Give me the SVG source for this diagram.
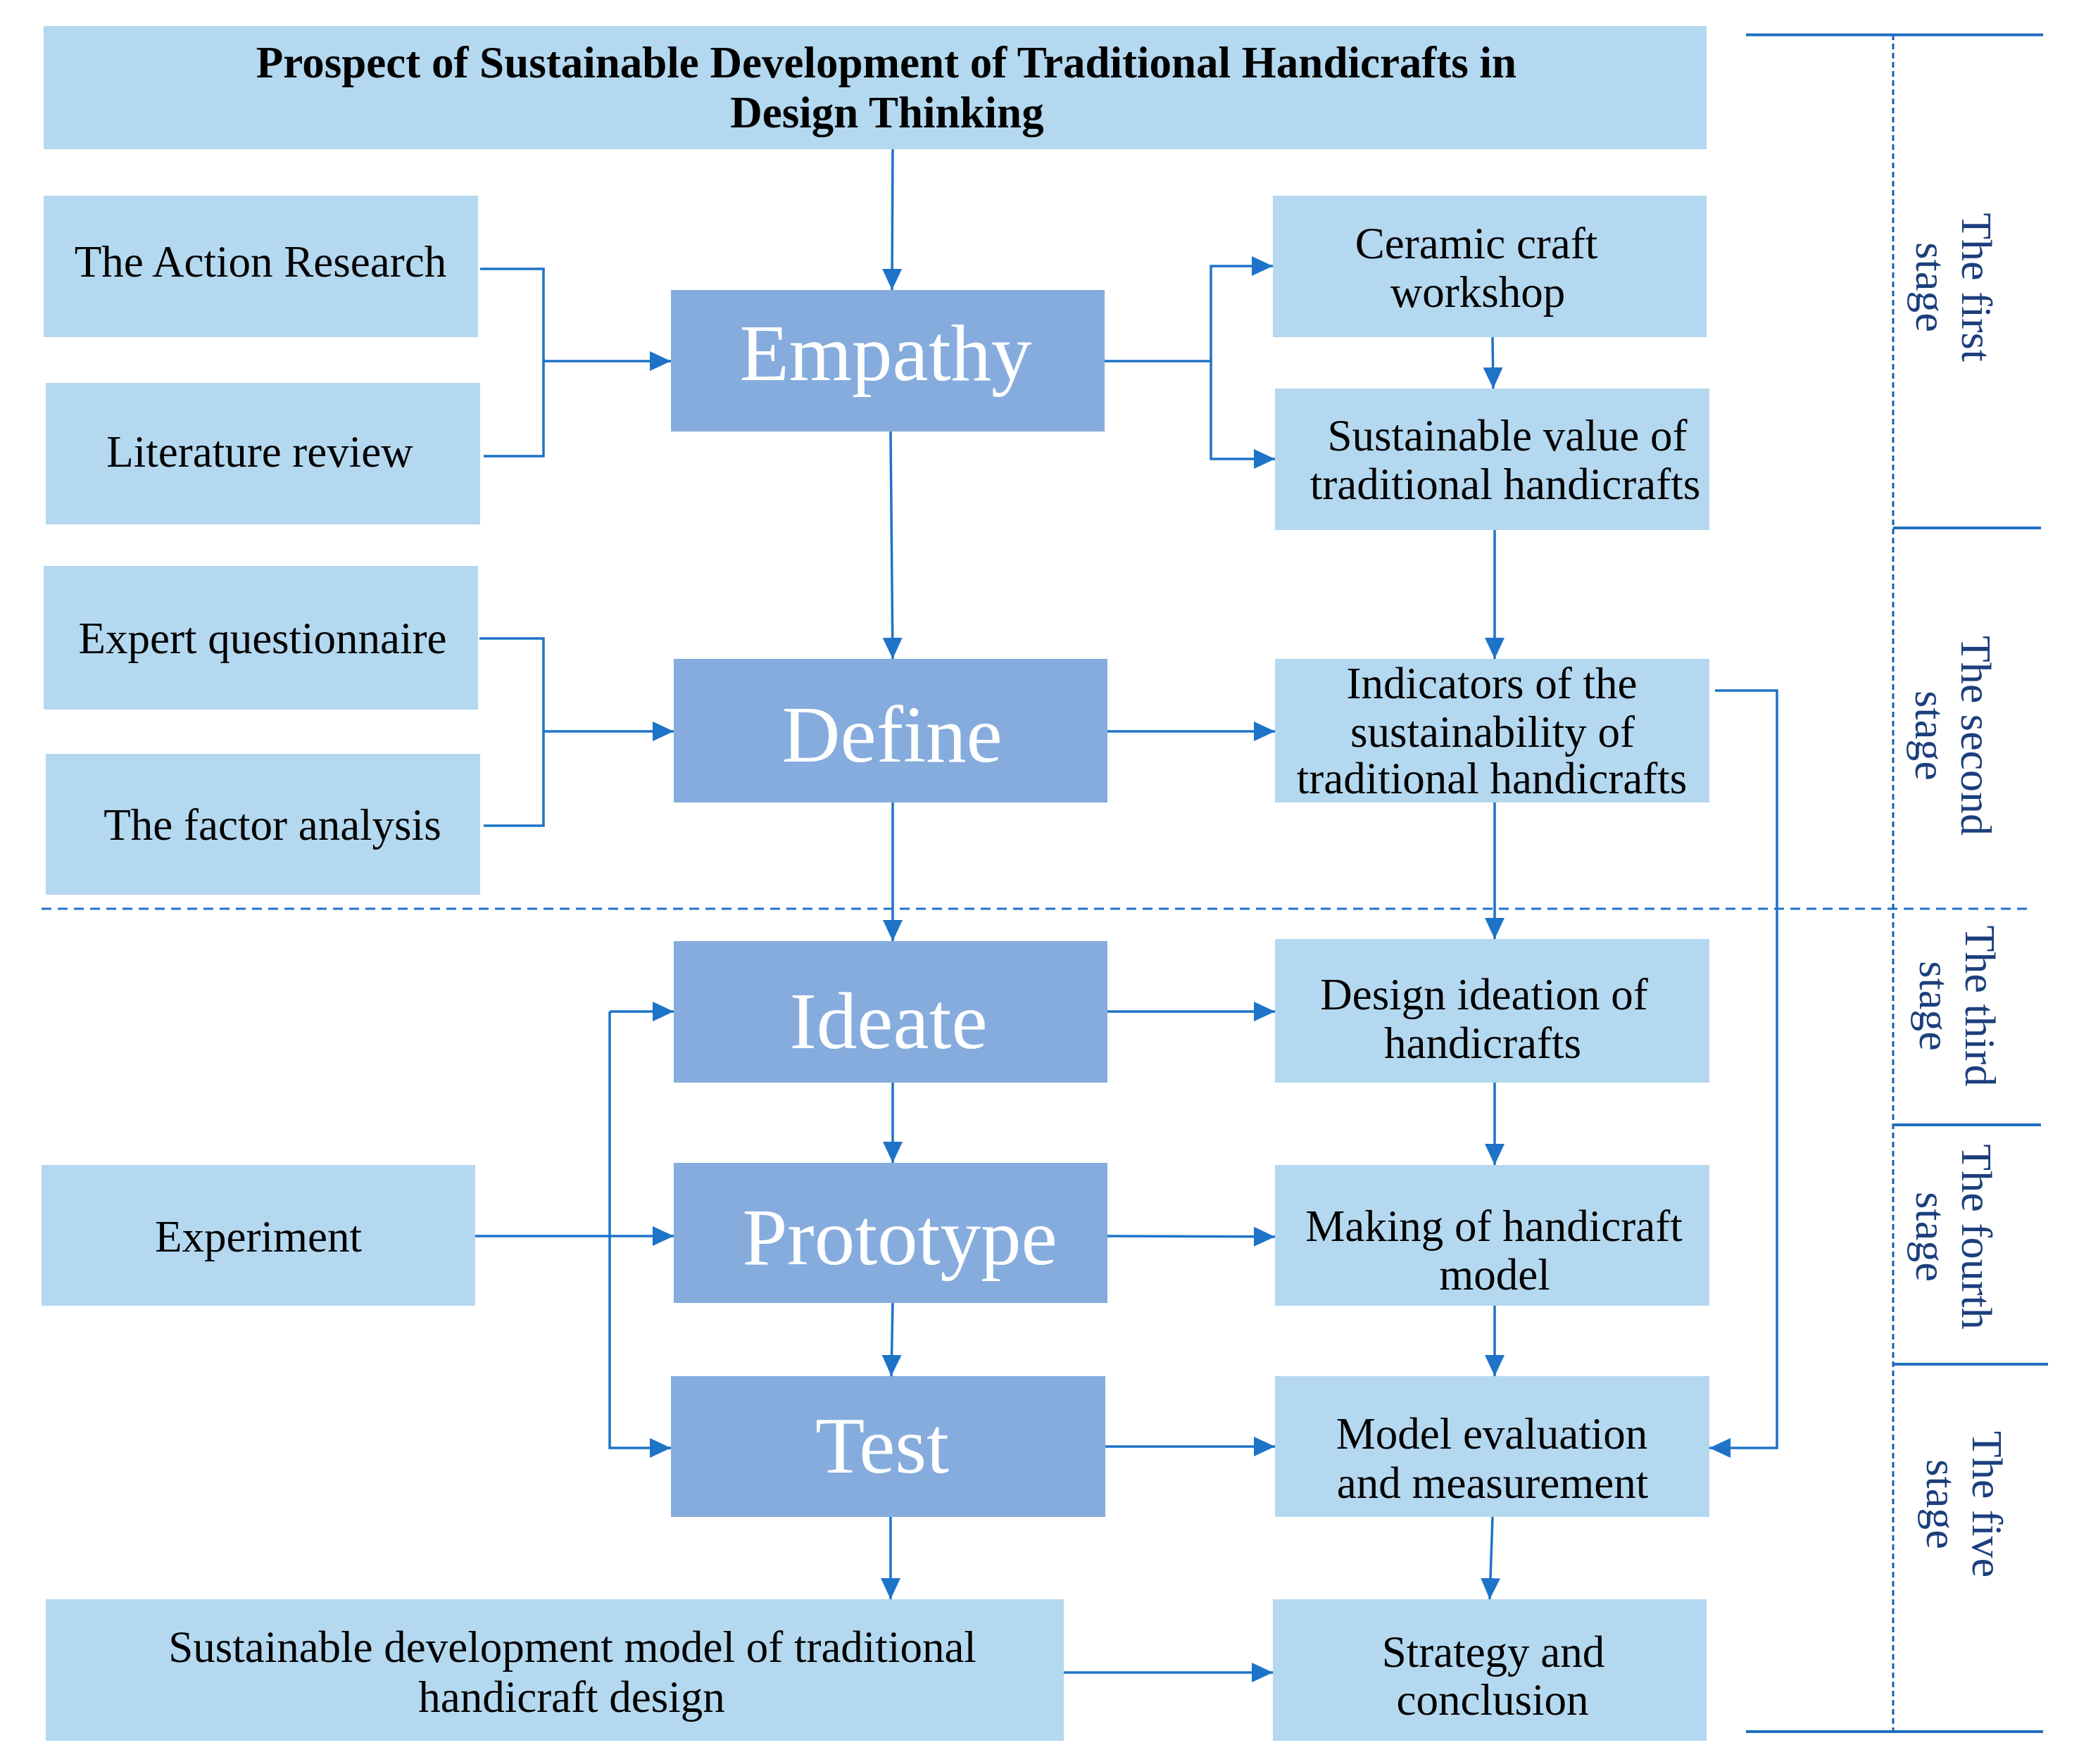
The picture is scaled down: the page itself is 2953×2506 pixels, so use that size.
<svg xmlns="http://www.w3.org/2000/svg" width="2953" height="2506" viewBox="0 0 2953 2506">
<style>
.lb{fill:#B4D8EF}
.db{fill:#85ACDD}
.t{font-family:"Liberation Serif","Times New Roman",serif;font-size:63px;fill:#000;text-anchor:middle}
.tt{font-family:"Liberation Serif","Times New Roman",serif;font-size:63px;font-weight:bold;fill:#000;text-anchor:middle}
.big{font-family:"Liberation Serif","Times New Roman",serif;font-size:115px;fill:#fff;text-anchor:middle}
.st{font-family:"Liberation Serif","Times New Roman",serif;font-size:62px;fill:#1C3F7C;text-anchor:middle}
.c{fill:none;stroke:#1E73C8;stroke-width:3.5}
.ca{fill:none;stroke:#1E73C8;stroke-width:3.5;marker-end:url(#ah)}
.sl{fill:none;stroke:#1F6FC0;stroke-width:4}
.dl{fill:none;stroke:#1A5EA8;stroke-width:3;stroke-dasharray:8 5}
.dh{fill:none;stroke:#1E73C8;stroke-width:3;stroke-dasharray:14 9}
</style>
<defs>
<marker id="ah" markerUnits="userSpaceOnUse" markerWidth="30" markerHeight="30" refX="30" refY="15" orient="auto">
<path d="M0,1 L30,15 L0,29 z" fill="#1E73C8"/>
</marker>
</defs>
<rect width="2953" height="2506" fill="#fff"/>

<g id="title"><rect class="lb" x="62" y="37" width="2362" height="175"/>
<text class="tt" x="1259" y="110">Prospect of Sustainable Development of Traditional Handicrafts in</text>
<text class="tt" x="1260" y="181">Design Thinking</text></g>

<g id="action-research"><rect class="lb" x="62" y="278" width="617" height="201"/><text class="t" x="370" y="393">The Action Research</text></g>
<g id="literature-review"><rect class="lb" x="65" y="544" width="617" height="201"/><text class="t" x="369" y="663">Literature review</text></g>
<g id="expert-questionnaire"><rect class="lb" x="62" y="804" width="617" height="204"/><text class="t" x="373" y="928">Expert questionnaire</text></g>
<g id="factor-analysis"><rect class="lb" x="65" y="1071" width="617" height="200"/><text class="t" x="387" y="1193">The factor analysis</text></g>
<g id="experiment"><rect class="lb" x="59" y="1655" width="616" height="200"/><text class="t" x="367" y="1778">Experiment</text></g>
<g id="sd-model"><rect class="lb" x="65" y="2272" width="1446" height="201"/>
<text class="t" x="813" y="2361">Sustainable development model of traditional</text>
<text class="t" x="812" y="2432">handicraft design</text></g>

<g id="empathy"><rect class="db" x="953" y="412" width="616" height="201"/><text class="big" x="1258" y="540">Empathy</text></g>
<g id="define"><rect class="db" x="957" y="936" width="616" height="204"/><text class="big" x="1267" y="1082">Define</text></g>
<g id="ideate"><rect class="db" x="957" y="1337" width="616" height="201"/><text class="big" x="1262" y="1489">Ideate</text></g>
<g id="prototype"><rect class="db" x="957" y="1652" width="616" height="199"/><text class="big" x="1278" y="1796">Prototype</text></g>
<g id="test"><rect class="db" x="953" y="1955" width="617" height="200"/><text class="big" x="1253" y="2092">Test</text></g>

<g id="ceramic"><rect class="lb" x="1808" y="278" width="616" height="201"/>
<text class="t" x="2097" y="367">Ceramic craft</text><text class="t" x="2099" y="436">workshop</text></g>
<g id="sustainable-value"><rect class="lb" x="1811" y="552" width="617" height="201"/>
<text class="t" x="2141" y="640">Sustainable value of</text><text class="t" x="2138" y="709">traditional handicrafts</text></g>
<g id="indicators"><rect class="lb" x="1811" y="936" width="617" height="204"/>
<text class="t" x="2119" y="992">Indicators of the</text><text class="t" x="2120" y="1061">sustainability of</text><text class="t" x="2119" y="1127">traditional handicrafts</text></g>
<g id="design-ideation"><rect class="lb" x="1811" y="1334" width="617" height="204"/>
<text class="t" x="2108" y="1434">Design ideation of</text><text class="t" x="2106" y="1503">handicrafts</text></g>
<g id="making"><rect class="lb" x="1811" y="1655" width="617" height="200"/>
<text class="t" x="2122" y="1763">Making of handicraft</text><text class="t" x="2123" y="1832">model</text></g>
<g id="model-evaluation"><rect class="lb" x="1811" y="1955" width="617" height="200"/>
<text class="t" x="2119" y="2058">Model evaluation</text><text class="t" x="2120" y="2128">and measurement</text></g>
<g id="strategy"><rect class="lb" x="1808" y="2272" width="616" height="201"/>
<text class="t" x="2121" y="2368">Strategy and</text><text class="t" x="2120" y="2436">conclusion</text></g>

<g id="connectors">
<path class="ca" d="M1268,212 L1267,412"/>
<path class="c" d="M682,382 H772 V648 H687"/>
<path class="ca" d="M772,513 H953"/>
<path class="c" d="M1569,513 H1720"/>
<path class="ca" d="M1720,513 V378 H1808"/>
<path class="ca" d="M1720,513 V652 H1811"/>
<path class="ca" d="M2120,479 L2121,552"/>
<path class="ca" d="M1265,613 L1268,936"/>
<path class="ca" d="M2123,753 V936"/>
<path class="c" d="M681,907 H772 V1173 H687"/>
<path class="ca" d="M772,1039 H957"/>
<path class="ca" d="M1573,1039 H1811"/>
<path class="ca" d="M1268,1140 V1337"/>
<path class="ca" d="M2123,1140 V1334"/>
<path class="ca" d="M1573,1437 H1811"/>
<path class="ca" d="M1268,1538 V1652"/>
<path class="ca" d="M2123,1538 V1655"/>
<path class="ca" d="M675,1756 H957"/>
<path class="ca" d="M866,1437 H957"/>
<path class="ca" d="M866,1437 V2057 H953"/>
<path class="ca" d="M1573,1756 L1811,1757"/>
<path class="ca" d="M1268,1851 L1266,1955"/>
<path class="ca" d="M2123,1855 V1955"/>
<path class="ca" d="M1570,2055 H1811"/>
<path class="ca" d="M2436,981 H2524 V2057 H2428"/>
<path class="ca" d="M1265,2155 V2272"/>
<path class="ca" d="M2120,2155 L2116,2272"/>
<path class="ca" d="M1511,2376 H1808"/>
</g>

<g id="stages">
<path class="dh" d="M59,1291 H2887"/>
<path class="dl" d="M2689,49 V2463"/>
<path class="sl" d="M2480,49.5 H2902"/>
<path class="sl" d="M2689,750 H2899"/>
<path class="sl" d="M2689,1598 H2899"/>
<path class="sl" d="M2689,1938 H2909"/>
<path class="sl" d="M2480,2460 H2902"/>
<g transform="translate(2787,408) rotate(90)"><text class="st" x="0" y="0">The first</text></g>
<g transform="translate(2722,408) rotate(90)"><text class="st" x="0" y="0">stage</text></g>
<g transform="translate(2786,1045) rotate(90)"><text class="st" x="0" y="0">The second</text></g>
<g transform="translate(2721,1045) rotate(90)"><text class="st" x="0" y="0">stage</text></g>
<g transform="translate(2792,1429) rotate(90)"><text class="st" x="0" y="0">The third</text></g>
<g transform="translate(2727,1429) rotate(90)"><text class="st" x="0" y="0">stage</text></g>
<g transform="translate(2787,1757) rotate(90)"><text class="st" x="0" y="0">The fourth</text></g>
<g transform="translate(2722,1757) rotate(90)"><text class="st" x="0" y="0">stage</text></g>
<g transform="translate(2802,2137) rotate(90)"><text class="st" x="0" y="0">The five</text></g>
<g transform="translate(2737,2137) rotate(90)"><text class="st" x="0" y="0">stage</text></g>
</g>
</svg>
